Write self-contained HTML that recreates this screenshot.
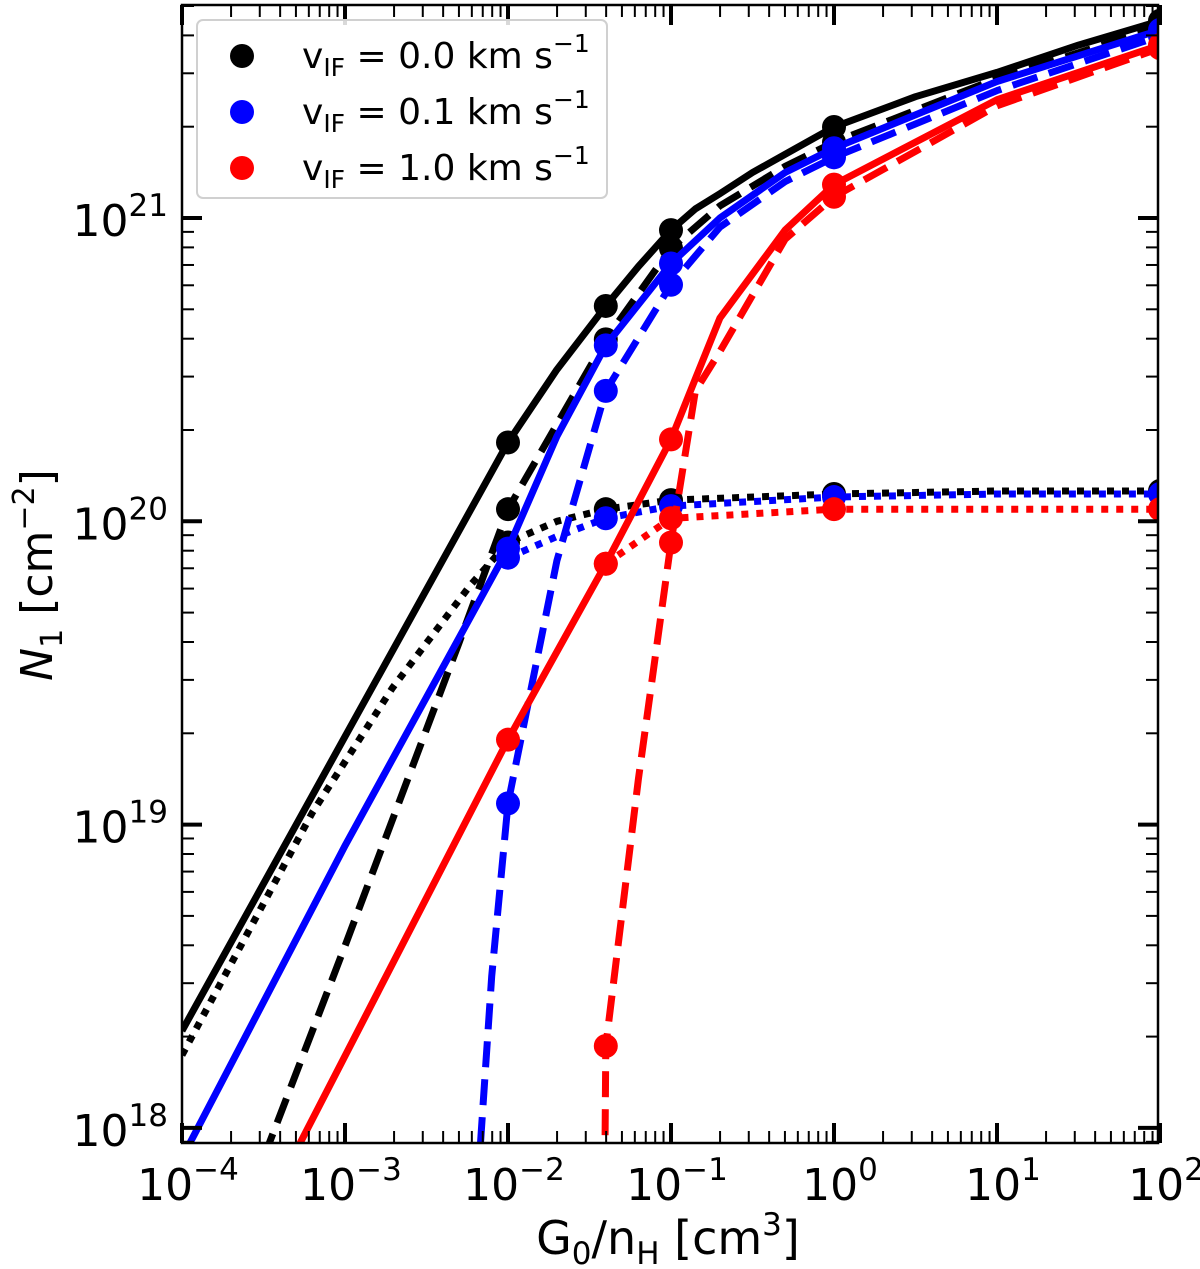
<!DOCTYPE html>
<html><head><meta charset="utf-8">
<style>
html,body{margin:0;padding:0;background:#fff;}
svg{display:block;font-family:"DejaVu Sans","Liberation Sans",sans-serif;}
</style></head>
<body>
<svg id="chart" width="1200" height="1269" viewBox="0 0 1200 1269" xmlns="http://www.w3.org/2000/svg">
<defs><clipPath id="plotclip"><rect x="182" y="5" width="976" height="1138"/></clipPath></defs>
<g id="series" clip-path="url(#plotclip)"></g>
<g id="axes"></g>
<g id="legend">
  <rect x="197" y="20" width="410" height="178" rx="6" fill="#fff" fill-opacity="0.85" stroke="#d0d0d0" stroke-width="2"/>
  <circle cx="242" cy="56" r="12" fill="#000"/>
  <text x="302" y="68" font-size="36">v<tspan font-size="25" dy="8">IF</tspan><tspan dy="-8"> = 0.0 km s</tspan><tspan font-size="25" dy="-16">−1</tspan></text>
  <circle cx="242" cy="112" r="12" fill="#0000ff"/>
  <text x="302" y="124" font-size="36">v<tspan font-size="25" dy="8">IF</tspan><tspan dy="-8"> = 0.1 km s</tspan><tspan font-size="25" dy="-16">−1</tspan></text>
  <circle cx="242" cy="168" r="12" fill="#ff0000"/>
  <text x="302" y="180" font-size="36">v<tspan font-size="25" dy="8">IF</tspan><tspan dy="-8"> = 1.0 km s</tspan><tspan font-size="25" dy="-16">−1</tspan></text>
</g>
<text x="668" y="1254" font-size="46" text-anchor="middle">G<tspan font-size="31" dy="10">0</tspan><tspan dy="-10">/n</tspan><tspan font-size="31" dy="10">H</tspan><tspan dy="-10"> [cm</tspan><tspan font-size="31" dy="-19">3</tspan><tspan dy="19">]</tspan></text>
<text transform="translate(52,575) rotate(-90)" font-size="44" text-anchor="middle"><tspan font-style="italic">N</tspan><tspan font-size="30" dy="10">1</tspan><tspan dy="-10"> [cm</tspan><tspan font-size="30" dy="-18">−2</tspan><tspan dy="18">]</tspan></text>
</svg>
<script>
// data in log10 units
const xTickExps = [-4,-3,-2,-1,0,1,2];
const yTickExps = [18,19,20,21];
const bkSolidX = [-4,-3,-2,-1.7,-1.4,-1.2,-1,-0.85,-0.7,-0.5,-0.3,0,0.5,1,1.5,2];
const bkSolidY = [18.32,19.29,20.26,20.50,20.71,20.84,20.96,21.03,21.08,21.15,21.21,21.30,21.40,21.48,21.57,21.65];
const bkDashX = [-3.5,-3,-2.3,-2,-1.4,-1,-0.7,-0.3,0,1,2];
const bkDashY = [17.9,18.6,19.6,20.04,20.60,20.90,21.04,21.17,21.25,21.46,21.63];
const bkDotX = [-4,-3.2,-2.71,-2.23,-2,-1.7,-1.4,-1,0,1,2];
const bkDotY = [18.24,19.04,19.45,19.79,19.93,20.0,20.04,20.07,20.09,20.10,20.10];
const blSolidX = [-4,-3,-2,-1.7,-1.4,-1,-0.7,-0.3,0,1,2];
const blSolidY = [17.9,18.93,19.91,20.28,20.58,20.85,21.0,21.15,21.23,21.45,21.62];
const blDashX = [-2.2,-2.1,-2,-1.7,-1.4,-1,-0.7,-0.3,0,1,2];
const blDashY = [17.7,18.5,19.07,19.87,20.43,20.78,20.97,21.12,21.20,21.42,21.60];
const blDotX = [-2,-1.7,-1.4,-1,0,1,2];
const blDotY = [19.88,19.95,20.01,20.05,20.08,20.09,20.09];
const rdSolidX = [-3.4,-2,-1.4,-1,-0.85,-0.7,-0.3,0,1,2];
const rdSolidY = [17.82,19.28,19.86,20.27,20.47,20.67,20.96,21.11,21.39,21.57];
const rdDashX = [-1.41,-1.4,-1.2,-1,-0.85,-0.7,-0.3,0,1,2];
const rdDashY = [17.6,18.27,19.15,19.93,20.43,20.56,20.93,21.07,21.37,21.56];
const rdDotX = [-1.4,-1,0,1,2];
const rdDotY = [19.86,20.01,20.04,20.04,20.04];
const markerXs = [-2,-1.4,-1,0,2];

const X0=182, XD=163, Y21=218, YD=303.3;
function xs(l){return X0+XD*(l+4);}
function ys(l){return Y21+YD*(21-l);}
const NS="http://www.w3.org/2000/svg";
const gS=document.getElementById('series');
const gA=document.getElementById('axes');

const seriesList=[
 ['black-solid','#000',null,bkSolidX,bkSolidY],
 ['black-dashed','#000','26 12',bkDashX,bkDashY],
 ['black-dotted','#000','7 8',bkDotX,bkDotY],
 ['blue-solid','#0000ff',null,blSolidX,blSolidY],
 ['blue-dashed','#0000ff','26 12',blDashX,blDashY],
 ['blue-dotted','#0000ff','7 8',blDotX,blDotY],
 ['red-solid','#ff0000',null,rdSolidX,rdSolidY],
 ['red-dashed','#ff0000','26 12',rdDashX,rdDashY],
 ['red-dotted','#ff0000','7 8',rdDotX,rdDotY]
];
seriesList.forEach(s=>{
  const p=document.createElementNS(NS,'polyline');
  p.setAttribute('points',s[3].map((x,i)=>xs(x).toFixed(1)+','+ys(s[4][i]).toFixed(1)).join(' '));
  p.setAttribute('fill','none');p.setAttribute('stroke',s[1]);p.setAttribute('stroke-width','7');
  p.setAttribute('stroke-linejoin','round');
  if(s[2])p.setAttribute('stroke-dasharray',s[2]);
  
  
  gS.appendChild(p);
  s[3].forEach((x,i)=>{
    if(markerXs.indexOf(x)<0)return;
    const c=document.createElementNS(NS,'circle');
    c.setAttribute('cx',xs(x));c.setAttribute('cy',ys(s[4][i]));c.setAttribute('r','12');c.setAttribute('fill',s[1]);
    
    
    gS.appendChild(c);
  });
});

function line(x1,y1,x2,y2,w,name){
  const l=document.createElementNS(NS,'line');
  l.setAttribute('x1',x1);l.setAttribute('y1',y1);l.setAttribute('x2',x2);l.setAttribute('y2',y2);
  l.setAttribute('stroke','#000');l.setAttribute('stroke-width',w);
  
  
  gA.appendChild(l);
}
const L=182,R=1158,T=5,B=1143;
const fr=document.createElementNS(NS,'rect');
fr.setAttribute('x',L);fr.setAttribute('y',T);fr.setAttribute('width',R-L);fr.setAttribute('height',B-T);
fr.setAttribute('fill','none');fr.setAttribute('stroke','#000');fr.setAttribute('stroke-width','2.5');


gA.appendChild(fr);
xTickExps.forEach(e=>{
  const x=xs(e);
  line(x,B,x,B-20,4,'x-major-tick');line(x,T,x,T+20,4,'x-major-tick-top');
  const t=document.createElementNS(NS,'text');
  t.setAttribute('x',x+6);t.setAttribute('y',1200);t.setAttribute('font-size','44');t.setAttribute('text-anchor','middle');
  t.innerHTML='10<tspan font-size="31" dy="-20">'+(e<0?'−'+(-e):e)+'</tspan>';
  
  
  gA.appendChild(t);
  if(e<2)for(let k=2;k<10;k++){const xm=xs(e+Math.log10(k));line(xm,B,xm,B-12,2,'x-minor-tick');line(xm,T,xm,T+12,2,'x-minor-tick-top');}
});
yTickExps.forEach(e=>{
  const y=ys(e);
  line(L,y,L+20,y,4,'y-major-tick');line(R,y,R-20,y,4,'y-major-tick-right');
  const t=document.createElementNS(NS,'text');
  t.setAttribute('x',168);t.setAttribute('y',y+18);t.setAttribute('font-size','44');t.setAttribute('text-anchor','end');
  t.innerHTML='10<tspan font-size="31" dy="-20">'+e+'</tspan>';
  
  
  gA.appendChild(t);
});
for(let e=17;e<=21;e++)for(let k=2;k<10;k++){
  const y=ys(e+Math.log10(k)); if(y<T||y>B)continue;
  line(L,y,L+12,y,2,'y-minor-tick');line(R,y,R-12,y,2,'y-minor-tick-right');
}
</script>
</body></html>
